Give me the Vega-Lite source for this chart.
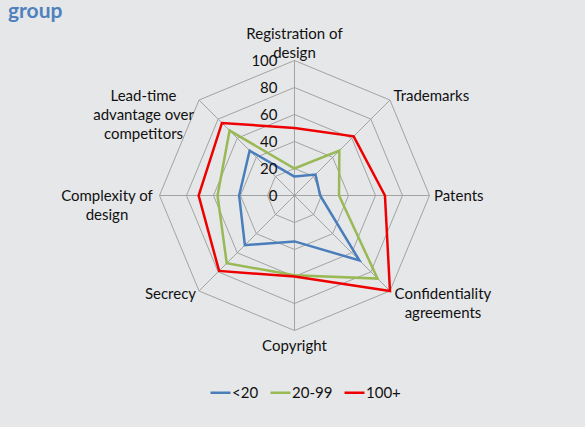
{
  "$schema": "https://vega.github.io/schema/vega-lite/v6.json",
  "width": 577,
  "height": 405,
  "autosize": {"type": "none"},
  "padding": {"left": 8, "top": 22, "right": 0, "bottom": 0},
  "background": "#e6e7e9",
  "title": {"text": "group", "anchor": "start", "frame": "group", "font": "Lato", "fontSize": 21, "fontWeight": "bold", "color": "#4f81bd", "baseline": "top", "offset": 0},
  "config": {"view": {"stroke": null}, "font": "Lato", "text": {"font": "Lato", "fontSize": 15, "color": "#111111"}},
  "datasets": {
    "series": [
      {"g": "<20", "i": 0, "v": 14}, {"g": "<20", "i": 1, "v": 22}, {"g": "<20", "i": 2, "v": 19}, {"g": "<20", "i": 3, "v": 68},
      {"g": "<20", "i": 4, "v": 34}, {"g": "<20", "i": 5, "v": 52}, {"g": "<20", "i": 6, "v": 41}, {"g": "<20", "i": 7, "v": 47},
      {"g": "20-99", "i": 0, "v": 20}, {"g": "20-99", "i": 1, "v": 47}, {"g": "20-99", "i": 2, "v": 33}, {"g": "20-99", "i": 3, "v": 87},
      {"g": "20-99", "i": 4, "v": 59}, {"g": "20-99", "i": 5, "v": 71}, {"g": "20-99", "i": 6, "v": 57}, {"g": "20-99", "i": 7, "v": 68},
      {"g": "100+", "i": 0, "v": 50}, {"g": "100+", "i": 1, "v": 62}, {"g": "100+", "i": 2, "v": 67}, {"g": "100+", "i": 3, "v": 100},
      {"g": "100+", "i": 4, "v": 60}, {"g": "100+", "i": 5, "v": 79}, {"g": "100+", "i": 6, "v": 71}, {"g": "100+", "i": 7, "v": 76}
    ],
    "grid": [
      {"ring": 20, "i": 0}, {"ring": 20, "i": 1}, {"ring": 20, "i": 2}, {"ring": 20, "i": 3}, {"ring": 20, "i": 4}, {"ring": 20, "i": 5}, {"ring": 20, "i": 6}, {"ring": 20, "i": 7},
      {"ring": 40, "i": 0}, {"ring": 40, "i": 1}, {"ring": 40, "i": 2}, {"ring": 40, "i": 3}, {"ring": 40, "i": 4}, {"ring": 40, "i": 5}, {"ring": 40, "i": 6}, {"ring": 40, "i": 7},
      {"ring": 60, "i": 0}, {"ring": 60, "i": 1}, {"ring": 60, "i": 2}, {"ring": 60, "i": 3}, {"ring": 60, "i": 4}, {"ring": 60, "i": 5}, {"ring": 60, "i": 6}, {"ring": 60, "i": 7},
      {"ring": 80, "i": 0}, {"ring": 80, "i": 1}, {"ring": 80, "i": 2}, {"ring": 80, "i": 3}, {"ring": 80, "i": 4}, {"ring": 80, "i": 5}, {"ring": 80, "i": 6}, {"ring": 80, "i": 7},
      {"ring": 100, "i": 0}, {"ring": 100, "i": 1}, {"ring": 100, "i": 2}, {"ring": 100, "i": 3}, {"ring": 100, "i": 4}, {"ring": 100, "i": 5}, {"ring": 100, "i": 6}, {"ring": 100, "i": 7}
    ],
    "axes": [
      {"i": 0, "label": "Registration of\ndesign"},
      {"i": 1, "label": "Trademarks"},
      {"i": 2, "label": "Patents"},
      {"i": 3, "label": "Confidentiality\nagreements"},
      {"i": 4, "label": "Copyright"},
      {"i": 5, "label": "Secrecy"},
      {"i": 6, "label": "Complexity of\ndesign"},
      {"i": 7, "label": "Lead-time\nadvantage over\ncompetitors"}
    ],
    "ticks": [{"v": 0}, {"v": 20}, {"v": 40}, {"v": 60}, {"v": 80}, {"v": 100}]
  },
  "encoding": {
    "x": {"field": "x", "type": "quantitative", "scale": {"domain": [-212.22, 215.19], "nice": false, "zero": false}, "axis": null},
    "y": {"field": "y", "type": "quantitative", "scale": {"domain": [-171.48, 128.52], "nice": false, "zero": false}, "axis": null}
  },
  "layer": [
    {
      "data": {"name": "grid"},
      "transform": [
        {"calculate": "datum.ring*sin(datum.i*PI/4)", "as": "x"},
        {"calculate": "datum.ring*cos(datum.i*PI/4)", "as": "y"}
      ],
      "mark": {"type": "line", "interpolate": "linear-closed", "color": "#a3a3a3", "strokeWidth": 1},
      "encoding": {"detail": {"field": "ring", "type": "nominal"}, "order": {"field": "i", "type": "quantitative"}}
    },
    {
      "data": {"name": "axes"},
      "transform": [
        {"calculate": "100*sin(datum.i*PI/4)", "as": "x"},
        {"calculate": "100*cos(datum.i*PI/4)", "as": "y"}
      ],
      "mark": {"type": "rule", "color": "#a3a3a3", "strokeWidth": 1},
      "encoding": {"x2": {"datum": 0}, "y2": {"datum": 0}}
    },
    {
      "data": {"name": "series"},
      "transform": [
        {"calculate": "datum.v*sin(datum.i*PI/4)", "as": "x"},
        {"calculate": "datum.v*cos(datum.i*PI/4)", "as": "y"}
      ],
      "mark": {"type": "line", "interpolate": "linear-closed", "strokeWidth": 2.5},
      "encoding": {
        "color": {
          "field": "g", "type": "nominal", "sort": ["<20", "20-99", "100+"],
          "scale": {"domain": ["<20", "20-99", "100+"], "range": ["#4a7ebb", "#98b954", "#ee0000"]},
          "legend": {"orient": "none", "legendX": 201, "legendY": 359, "direction": "horizontal", "title": null, "symbolType": "stroke", "symbolSize": 400, "symbolStrokeWidth": 2.5, "labelFont": "Lato", "labelFontSize": 15, "labelColor": "#111111", "labelOffset": 0, "columnPadding": 6, "padding": 0}
        },
        "detail": {"field": "g", "type": "nominal"},
        "order": {"field": "i", "type": "quantitative"}
      }
    },
    {
      "data": {"name": "ticks"},
      "transform": [{"calculate": "0", "as": "x"}, {"calculate": "datum.v", "as": "y"}],
      "mark": {"type": "text", "align": "right", "baseline": "middle", "dx": -17},
      "encoding": {"text": {"field": "v", "type": "quantitative"}}
    },
    {
      "data": {"name": "axes"},
      "transform": [{"filter": "datum.i==0"}, {"calculate": "100*sin(datum.i*PI/4)", "as": "x"}, {"calculate": "100*cos(datum.i*PI/4)", "as": "y"}],
      "mark": {"type": "text", "align": "center", "baseline": "middle", "lineBreak": "\n", "lineHeight": 19, "dx": 0, "dy": -27},
      "encoding": {"text": {"field": "label", "type": "nominal"}}
    },
    {
      "data": {"name": "axes"},
      "transform": [{"filter": "datum.i==1"}, {"calculate": "100*sin(datum.i*PI/4)", "as": "x"}, {"calculate": "100*cos(datum.i*PI/4)", "as": "y"}],
      "mark": {"type": "text", "align": "left", "baseline": "middle", "lineBreak": "\n", "lineHeight": 19, "dx": 3.5, "dy": -4.5},
      "encoding": {"text": {"field": "label", "type": "nominal"}}
    },
    {
      "data": {"name": "axes"},
      "transform": [{"filter": "datum.i==2"}, {"calculate": "100*sin(datum.i*PI/4)", "as": "x"}, {"calculate": "100*cos(datum.i*PI/4)", "as": "y"}],
      "mark": {"type": "text", "align": "left", "baseline": "middle", "lineBreak": "\n", "lineHeight": 19, "dx": 4.5, "dy": 0.5},
      "encoding": {"text": {"field": "label", "type": "nominal"}}
    },
    {
      "data": {"name": "axes"},
      "transform": [{"filter": "datum.i==3"}, {"calculate": "100*sin(datum.i*PI/4)", "as": "x"}, {"calculate": "100*cos(datum.i*PI/4)", "as": "y"}],
      "mark": {"type": "text", "align": "center", "baseline": "middle", "lineBreak": "\n", "lineHeight": 19, "dx": 53, "dy": 3},
      "encoding": {"text": {"field": "label", "type": "nominal"}}
    },
    {
      "data": {"name": "axes"},
      "transform": [{"filter": "datum.i==4"}, {"calculate": "100*sin(datum.i*PI/4)", "as": "x"}, {"calculate": "100*cos(datum.i*PI/4)", "as": "y"}],
      "mark": {"type": "text", "align": "center", "baseline": "middle", "lineBreak": "\n", "lineHeight": 19, "dx": 0, "dy": 15.5},
      "encoding": {"text": {"field": "label", "type": "nominal"}}
    },
    {
      "data": {"name": "axes"},
      "transform": [{"filter": "datum.i==5"}, {"calculate": "100*sin(datum.i*PI/4)", "as": "x"}, {"calculate": "100*cos(datum.i*PI/4)", "as": "y"}],
      "mark": {"type": "text", "align": "right", "baseline": "middle", "lineBreak": "\n", "lineHeight": 19, "dx": -3, "dy": 3.3},
      "encoding": {"text": {"field": "label", "type": "nominal"}}
    },
    {
      "data": {"name": "axes"},
      "transform": [{"filter": "datum.i==6"}, {"calculate": "100*sin(datum.i*PI/4)", "as": "x"}, {"calculate": "100*cos(datum.i*PI/4)", "as": "y"}],
      "mark": {"type": "text", "align": "center", "baseline": "middle", "lineBreak": "\n", "lineHeight": 19, "dx": -52.5, "dy": 0},
      "encoding": {"text": {"field": "label", "type": "nominal"}}
    },
    {
      "data": {"name": "axes"},
      "transform": [{"filter": "datum.i==7"}, {"calculate": "100*sin(datum.i*PI/4)", "as": "x"}, {"calculate": "100*cos(datum.i*PI/4)", "as": "y"}],
      "mark": {"type": "text", "align": "center", "baseline": "middle", "lineBreak": "\n", "lineHeight": 19, "dx": -55.5, "dy": -4.3},
      "encoding": {"text": {"field": "label", "type": "nominal"}}
    }
  ]
}
